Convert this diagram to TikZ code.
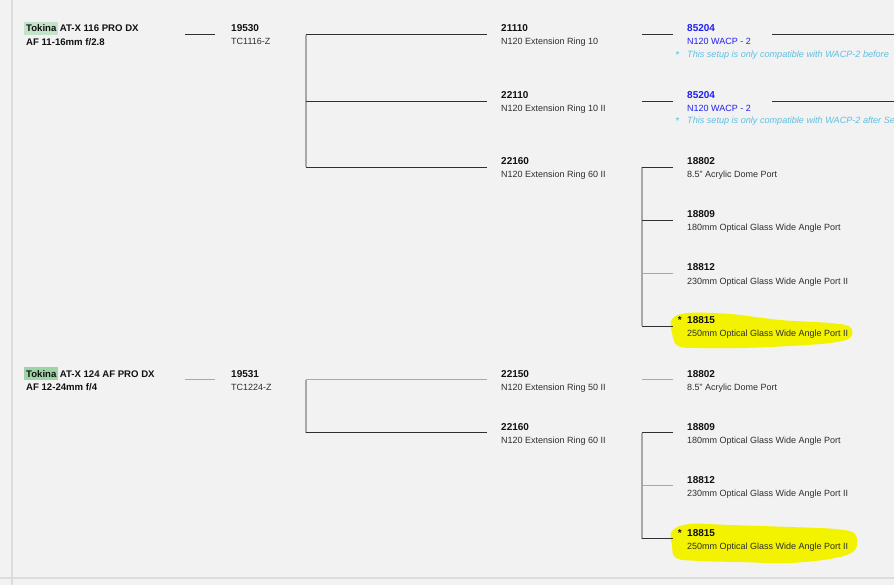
\documentclass[tikz,border=0pt]{standalone}
\usepackage{fontspec}
\setmainfont{Liberation Sans}
\definecolor{bgc}{HTML}{F2F2F2}
\definecolor{framec}{HTML}{DCDCDC}
\definecolor{numc}{HTML}{111111}
\definecolor{descc}{HTML}{2E2E2E}
\definecolor{wblue}{HTML}{1F1FF0}
\definecolor{notec}{HTML}{5FBFDD}
\definecolor{linedk}{HTML}{303030}
\definecolor{linegr}{HTML}{A8A8A8}
\definecolor{tokA}{HTML}{C4E4CA}
\definecolor{tokB}{HTML}{9ED4A7}
\definecolor{hly}{HTML}{F3F300}
\tikzset{
  num/.style={anchor=base west, inner sep=0pt, font=\fontsize{10}{12}\selectfont\bfseries, text=numc},
  desc/.style={anchor=base west, inner sep=0pt, font=\fontsize{9}{11}\selectfont, text=descc},
  ttl/.style={anchor=base west, inner sep=0pt, font=\fontsize{9.6}{12}\selectfont\bfseries, text=numc},
  bnum/.style={num, text=wblue},
  bdesc/.style={desc, text=wblue},
  note/.style={anchor=base west, inner sep=0pt, font=\fontsize{9.1}{11}\selectfont\itshape, text=notec},
  star/.style={anchor=base east, inner sep=0pt, font=\fontsize{10}{12}\selectfont\bfseries, text=numc},
  dk/.style={draw=linedk, line width=1pt},
  gr/.style={draw=linegr, line width=1.5pt},
  framel/.style={draw=framec, line width=1.2pt},
}
\newcommand\pitem[5]{\node[num] (#1) at (#2,#3) {#4};
  \node[desc] (#1d) at ([yshift=-13pt]#1.base west) {#5};}
\newcommand\bitem[5]{\node[bnum] (#1) at (#2,#3) {#4};
  \node[bdesc] (#1d) at ([yshift=-13pt]#1.base west) {#5};}
\newcommand\tapc[3]{\coordinate (#1) at ([xshift=-#3pt,yshift=-2.7pt]#2.base west);}
\begin{document}
\begin{tikzpicture}[x=1pt,y=-1pt]
\useasboundingbox (0,0) rectangle (894,585);
\fill[bgc] (0,0) rectangle (894,585);
\coordinate (edgeR) at (894,0);
\draw[framel] (12,0) -- (12,585);
\draw[framel] (0,578) -- (894,578);

% yellow highlights
\fill[hly] plot[smooth cycle, tension=0.6] coordinates {(672,319) (688,313) (730,314) (780,320) (830,323) (850,327) (850,338) (830,343) (790,346) (740,348) (700,348) (678,346) (672,333)};
\fill[hly] plot[smooth cycle, tension=0.6] coordinates {(672,531) (690,524) (730,525) (790,527) (835,529) (855,534) (855,550) (835,558) (790,563) (740,562) (700,561) (676,558) (672,545)};

% ---------- lens 1 ----------
\node[ttl, fill=tokA, inner xsep=2pt, inner ysep=2.6pt] (tokA) at (24,32) {Tokina};
\node[ttl] (lensA) at ([xshift=1pt]tokA.base east) {AT-X 116 PRO DX};
\node[ttl] (lensA2) at (26,45.5) {AF 11-16mm f/2.8};

\pitem{c19530}{231}{32}{19530}{TC1116-Z}
\pitem{c21110}{501}{32}{21110}{N120 Extension Ring 10}
\pitem{c22110}{501}{98.5}{22110}{N120 Extension Ring 10 II}
\pitem{c22160a}{501}{164.5}{22160}{N120 Extension Ring 60 II}

\bitem{c85204a}{687}{32}{85204}{N120 WACP - 2}
\node[note, font=\fontsize{10}{11}\selectfont] (sa) at (675.5,58.5) {*};
\node[note] (notea) at (687,57.5) {This setup is only compatible with WACP-2 before};
\bitem{c85204b}{687}{98.5}{85204}{N120 WACP - 2}
\node[note, font=\fontsize{10}{11}\selectfont] (sb) at (675.5,125) {*};
\node[note] (noteb) at (687,124) {This setup is only compatible with WACP-2 after Se};

\pitem{c18802a}{687}{164.5}{18802}{8.5" Acrylic Dome Port}
\pitem{c18809a}{687}{217.5}{18809}{180mm Optical Glass Wide Angle Port}
\pitem{c18812a}{687}{271}{18812}{230mm Optical Glass Wide Angle Port II}
\pitem{c18815a}{687}{323.5}{18815}{250mm Optical Glass Wide Angle Port II}
\node[star] (sta) at ([xshift=-5pt]c18815a.base west) {*};

% connectors lens 1
\tapc{a1}{c19530}{46}
\draw[dk, shorten >=16pt] (a1) -- (a1 -| c19530.west);
\tapc{b1}{c21110}{195}\tapc{b2}{c22110}{195}\tapc{b3}{c22160a}{195}
\draw[gr] (b1) -- (b3);
\draw[dk, shorten >=14pt] (b1) -- (b1 -| c21110.west);
\draw[dk, shorten >=14pt] (b2) -- (b2 -| c22110.west);
\draw[dk, shorten >=14pt] (b3) -- (b3 -| c22160a.west);
\tapc{w1}{c85204a}{45}\tapc{w2}{c85204b}{45}
\draw[dk, shorten >=14pt] (w1) -- (w1 -| c85204a.west);
\draw[dk, shorten >=14pt] (w2) -- (w2 -| c85204b.west);
\tapc{t1}{c85204a}{-85}\tapc{t2}{c85204b}{-85}
\draw[dk] (t1) -- (t1 -| edgeR);
\draw[dk] (t2) -- (t2 -| edgeR);
\tapc{d1}{c18802a}{45}\tapc{d2}{c18809a}{45}\tapc{d3}{c18812a}{45}\tapc{d4}{c18815a}{45}
\draw[gr] (d1) -- (d4);
\draw[dk, shorten >=14pt] (d1) -- (d1 -| c18802a.west);
\draw[dk, shorten >=14pt] (d2) -- (d2 -| c18809a.west);
\draw[gr, shorten >=14pt] (d3) -- (d3 -| c18812a.west);
\draw[dk, shorten >=14pt] (d4) -- (d4 -| c18815a.west);

% ---------- lens 2 ----------
\node[ttl, fill=tokB, inner xsep=2pt, inner ysep=2.6pt] (tokB) at (24,377) {Tokina};
\node[ttl] (lensB) at ([xshift=1pt]tokB.base east) {AT-X 124 AF PRO DX};
\node[ttl] (lensB2) at (26,390.5) {AF 12-24mm f/4};

\pitem{c19531}{231}{377}{19531}{TC1224-Z}
\pitem{c22150}{501}{377}{22150}{N120 Extension Ring 50 II}
\pitem{c22160b}{501}{430}{22160}{N120 Extension Ring 60 II}
\pitem{c18802b}{687}{377}{18802}{8.5" Acrylic Dome Port}
\pitem{c18809b}{687}{430}{18809}{180mm Optical Glass Wide Angle Port}
\pitem{c18812b}{687}{483}{18812}{230mm Optical Glass Wide Angle Port II}
\pitem{c18815b}{687}{536}{18815}{250mm Optical Glass Wide Angle Port II}
\node[star] (stb) at ([xshift=-5pt]c18815b.base west) {*};

\tapc{a2}{c19531}{46}
\draw[gr, shorten >=16pt] (a2) -- (a2 -| c19531.west);
\tapc{e1}{c22150}{195}\tapc{e2}{c22160b}{195}
\draw[gr] (e1) -- (e2);
\draw[gr, shorten >=14pt] (e1) -- (e1 -| c22150.west);
\draw[dk, shorten >=14pt] (e2) -- (e2 -| c22160b.west);
\tapc{f0}{c18802b}{45}
\draw[gr, shorten >=14pt] (f0) -- (f0 -| c18802b.west);
\tapc{f1}{c18809b}{45}\tapc{f2}{c18812b}{45}\tapc{f3}{c18815b}{45}
\draw[gr] (f1) -- (f3);
\draw[dk, shorten >=14pt] (f1) -- (f1 -| c18809b.west);
\draw[gr, shorten >=14pt] (f2) -- (f2 -| c18812b.west);
\draw[dk, line width=1.5pt, shorten >=14pt] (f3) -- (f3 -| c18815b.west);
\end{tikzpicture}
\end{document}
